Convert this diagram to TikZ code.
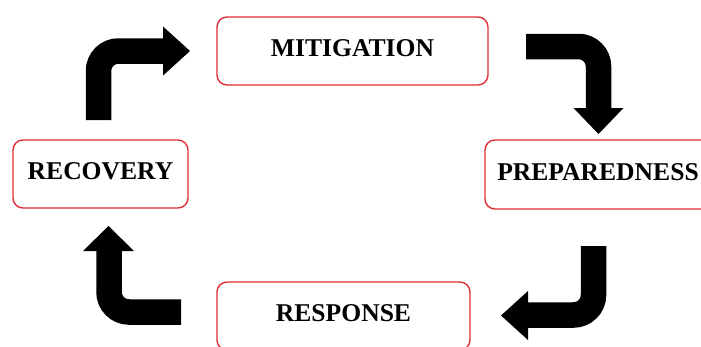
\documentclass[tikz,border=0pt]{standalone}
\usepackage{fontspec}
\setmainfont{Liberation Serif}
\definecolor{boxred}{RGB}{225,45,55}
\begin{document}
\begin{tikzpicture}[x=1pt,y=-1pt]
\tikzset{
  phase/.style={draw=boxred, line width=1.4pt, rounded corners=10pt, fill=white,
    inner sep=0pt, text depth=5pt, font=\fontsize{25.6}{30}\selectfont\bfseries},
  shaft/.style={line width=25.5pt, rounded corners=20pt},
  head/.style={fill=black}
}
\useasboundingbox (0,0) rectangle (701,346);
\fill[white] (0,0) rectangle (701,346);
\clip (0,0) rectangle (701,346);

\node[phase, minimum width=271pt, minimum height=68pt] (mit) at (352.5,51) {MITIGATION};
\node[phase, minimum width=226pt, minimum height=69pt] (prep) at (598,174.5) {PREPAREDNESS};
\node[phase, minimum width=175pt, minimum height=68pt] (rec) at (100.5,174) {RECOVERY};
\node[phase, minimum width=253pt, minimum height=68pt] (resp) at (343.5,316) {RESPONSE};

% recovery -> mitigation
\draw[shaft] (98.5,120) -- (98.5,51) -- (164,51);
\fill[head] (163,26.5) -- (190,51) -- (163,75.5) -- cycle;
% mitigation -> preparedness
\draw[shaft] (526,46.5) -- (598.5,46.5) -- (598.5,109);
\fill[head] (573.5,108) -- (598.5,134) -- (623.5,108) -- cycle;
% preparedness -> response
\draw[shaft] (593.5,246) -- (593.5,315) -- (527,315);
\fill[head] (528,291) -- (501,315.5) -- (528,340) -- cycle;
% response -> recovery
\draw[shaft] (181,312) -- (109,312) -- (109,250);
\fill[head] (83,251) -- (108.5,226) -- (134,251) -- cycle;
\end{tikzpicture}
\end{document}
